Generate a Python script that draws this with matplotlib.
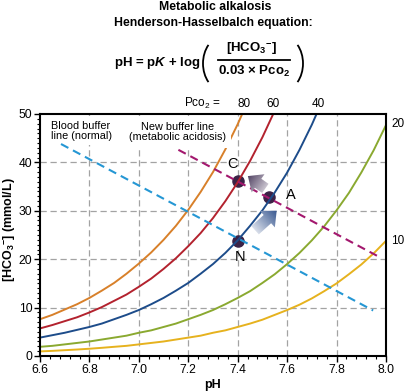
import numpy as np
import matplotlib
matplotlib.use('Agg')
import matplotlib.pyplot as plt
from matplotlib.ticker import AutoMinorLocator
from matplotlib.patches import FancyArrowPatch, Arc
from matplotlib.lines import Line2D
from matplotlib.colors import LinearSegmentedColormap

plt.rcParams['font.family'] = ['Liberation Sans', 'DejaVu Sans']
plt.rcParams['mathtext.fontset'] = 'custom'
plt.rcParams['mathtext.rm'] = 'Liberation Sans:bold'
plt.rcParams['mathtext.it'] = 'Liberation Sans:bold:italic'
plt.rcParams['mathtext.bf'] = 'Liberation Sans:bold'

# Valeurs (HCO3- en mmol/L pour chaque isobare de PCO2, pas de 0.05 pH)
ph = [6.60, 6.65, 6.70, 6.75, 6.80, 6.85, 6.90, 6.95, 7.00, 7.05, 7.10, 7.15, 7.20, 7.25,
      7.30, 7.35, 7.40, 7.45, 7.50, 7.55, 7.60, 7.65, 7.70, 7.75, 7.80, 7.85, 7.90, 7.95, 8.00]
pco2_80 = [7.6, 8.5, 9.6, 10.7, 12.0, 13.5, 15.1, 17.0, 19.1, 21.4, 24.0, 26.9, 30.2, 33.9,
           38.0, 42.7, 47.9, 53.7]
pco2_60 = [5.7, 6.4, 7.2, 8.0, 9.0, 10.1, 11.4, 12.7, 14.3, 16.0, 18.0, 20.2, 22.7, 25.4,
           28.5, 32.0, 35.9, 40.3, 45.2, 50.7]
pco2_40 = [3.8, 4.3, 4.8, 5.4, 6.0, 6.7, 7.6, 8.5, 9.5, 10.7, 12.0, 13.5, 15.1, 17.0,
           19.0, 21.3, 23.9, 26.9, 30.1, 33.8, 37.9, 42.6, 47.8, 53.6]
pco2_20 = [1.9, 2.1, 2.4, 2.7, 3.0, 3.4, 3.8, 4.2, 4.8, 5.3, 6.0, 6.7, 7.6, 8.5, 9.5,
           10.7, 12.0, 13.4, 15.1, 16.9, 19.0, 21.3, 23.9, 26.8, 30.1, 33.7, 37.9, 42.5, 47.7]
pco2_10 = [0.95, 1.06, 1.2, 1.34, 1.5, 1.69, 1.9, 2.1, 2.4, 2.7, 3.0, 3.4, 3.8, 4.2, 4.8,
           5.3, 6.0, 6.7, 7.5, 8.5, 9.5, 10.6, 11.9, 13.4, 15.0, 16.9, 18.9, 21.2, 23.8]

# Droites tampons
blood_ph = [6.685, 7.948]
blood_hco3 = [43.8, 9.4]
new_ph = [7.16, 7.964]
new_hco3 = [42.6, 20.7]

# Points N, A, C
pt_ph = [7.40, 7.527, 7.40]
pt_hco3 = [23.8, 32.8, 36.2]

xticks = [6.6, 6.8, 7.0, 7.2, 7.4, 7.6, 7.8, 8.0]
yticks = [0, 10, 20, 30, 40, 50]

W, H = 405, 391
fig = plt.figure(figsize=(W / 100, H / 100), dpi=100)


def px(x, y):
    # pixels depuis le coin haut-gauche -> fraction de figure
    return x / W, 1 - y / H


ax = fig.add_axes([40 / W, 35 / H, 346 / W, 242 / H])
ax.set_xlim(6.6, 8.0)
ax.set_ylim(0, 50)

# grille
for x in xticks[1:-1]:
    ax.axvline(x, color='#a3a3a3', lw=0.9, ls=(0, (5, 3)), zorder=1)
for y in yticks[1:-1]:
    ax.axhline(y, color='#a3a3a3', lw=0.9, ls=(0, (5, 3)), zorder=1)

# isobares
curves = [(pco2_80, '#d8802a'), (pco2_60, '#b3222e'), (pco2_40, '#1d4c8a'),
          (pco2_20, '#8aa930'), (pco2_10, '#e6b21e')]
for vals, col in curves:
    ax.plot(ph[:len(vals)], vals, color=col, lw=1.4, zorder=4)

# points (sous les lignes)
ax.plot(pt_ph, pt_hco3, 'o', ms=8, color='#3b2246', mec='#3b2246', zorder=3)

ax.plot(blood_ph, blood_hco3, color='#2597d4', lw=1.5, ls=(0, (4, 2.5)), zorder=5)
ax.plot(new_ph, new_hco3, color='#a3186e', lw=1.5, ls=(0, (4, 2.5)), zorder=5)


def gradient_arrow(start, end, c0, c1):
    patch = FancyArrowPatch(start, end,
                            arrowstyle='simple,head_length=0.9,head_width=1.6,tail_width=0.8',
                            mutation_scale=10, facecolor='none', edgecolor='none', zorder=6)
    ax.add_patch(patch)
    (x0, y0), (x1, y1) = start, end
    p0 = ax.transData.transform((x0, y0))
    p1 = ax.transData.transform((x1, y1))
    xmin, xmax = min(x0, x1) - 0.06, max(x0, x1) + 0.06
    ymin, ymax = min(y0, y1) - 3, max(y0, y1) + 3
    X, Y = np.meshgrid(np.linspace(xmin, xmax, 120), np.linspace(ymin, ymax, 120))
    P = ax.transData.transform(np.column_stack([X.ravel(), Y.ravel()]))
    d = p1 - p0
    t = ((P - p0) @ d) / (d @ d)
    t = np.clip(t, 0, 1).reshape(X.shape)
    cmap = LinearSegmentedColormap.from_list('g', [c0, c1])
    im = ax.imshow(t, extent=(xmin, xmax, ymin, ymax), origin='lower', cmap=cmap,
                   aspect='auto', interpolation='bilinear', zorder=6)
    im.set_clip_path(patch)


gradient_arrow((7.462, 25.6), (7.566, 30.4), '#e8ebf2', '#2a4c88')
gradient_arrow((7.521, 34.3), (7.432, 37.5), '#dcd8e0', '#463658')
ax.set_xlim(6.6, 8.0)
ax.set_ylim(0, 50)

# textes dans le graphique
ax.text(7.377, 39.6, 'C', fontsize=10.5, ha='center', va='center', zorder=7)
ax.text(7.616, 33.3, 'A', fontsize=10.5, ha='center', va='center', zorder=7)
ax.text(7.41, 20.5, 'N', fontsize=10.5, ha='center', va='center', zorder=7)
ax.text(6.766, 46.5, 'Blood buffer\nline (normal)', fontsize=7.8, ha='center', va='center',
        linespacing=1.1, zorder=2, bbox=dict(fc='white', ec='none', pad=3))
ax.text(7.155, 46.3, 'New buffer line\n(metabolic acidosis)', fontsize=7.8, ha='center',
        va='center', linespacing=1.1, zorder=5,
        bbox=dict(fc='white', ec='none', pad=4))

ax.text(8.02, 47.9, '20', fontsize=8.5, ha='left', va='center', clip_on=False)
ax.text(8.02, 23.8, '10', fontsize=8.5, ha='left', va='center', clip_on=False)
ax.text(7.256, 52.1, r'P$\mathregular{co_2}$ =', fontsize=8.5, ha='center', va='center')
ax.text(7.426, 52.1, '80', fontsize=8.5, ha='center', va='center')
ax.text(7.543, 52.1, '60', fontsize=8.5, ha='center', va='center')
ax.text(7.725, 52.1, '40', fontsize=8.5, ha='center', va='center')

# axes
ax.set_xticks(xticks)
ax.set_xticklabels([f'{v:.1f}' for v in xticks])
ax.set_yticks(yticks)
ax.xaxis.set_minor_locator(AutoMinorLocator(5))
ax.yaxis.set_minor_locator(AutoMinorLocator(10))
ax.tick_params(which='major', direction='out', length=4, width=1, labelsize=8.7, pad=1.5)
ax.tick_params(which='minor', direction='out', length=2.5, width=0.8)
for s in ax.spines.values():
    s.set_linewidth(1.5)
    s.set_zorder(8)

fig.text(*px(10, 230), r'[HCO$\mathregular{_3}$$\mathregular{^{-}}$] (mmol/L)', rotation=90,
         fontsize=9, fontweight='bold', ha='center', va='center')
fig.text(*px(213, 385), 'pH', fontsize=9, fontweight='bold', ha='center', va='center')

# titre et equation
fig.text(*px(215, 7), 'Metabolic alkalosis', fontsize=8.8, fontweight='bold',
         ha='center', va='center')
fig.text(*px(213, 23), 'Henderson-Hasselbalch equation:', fontsize=8.8, fontweight='bold',
         ha='center', va='center')
fig.text(*px(200, 63), r'pH = p$\mathit{K}$ + log', fontsize=9.5, fontweight='bold',
         ha='right', va='center')
fig.text(*px(252, 49), r'[HCO$\mathregular{_3}$$\mathregular{^{-}}$]', fontsize=9.5,
         fontweight='bold', ha='center', va='center')
fig.text(*px(254, 71), r'0.03 × Pco$\mathregular{_2}$', fontsize=9.5,
         fontweight='bold', ha='center', va='center')
fig.add_artist(Line2D([218 / W, 290 / W], [1 - 60 / H, 1 - 60 / H], color='black', lw=1.3))
fig.add_artist(Arc(px(223, 63.5), 40 / W, 54 / H, theta1=127, theta2=233,
                   transform=fig.transFigure, color='black', lw=1.3))
fig.add_artist(Arc(px(283, 63.5), 40 / W, 54 / H, theta1=-53, theta2=53,
                   transform=fig.transFigure, color='black', lw=1.3))

fig.savefig('out.png', dpi=100)
